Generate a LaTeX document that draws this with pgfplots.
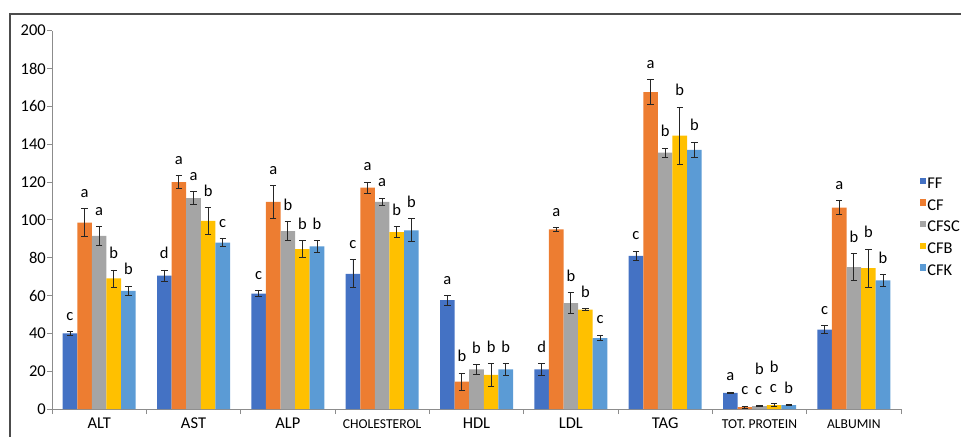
\documentclass[border=0pt]{standalone}
\usepackage{fontspec}
\setmainfont{Carlito}
\usepackage{pgfplots}
\pgfplotsset{compat=1.18}
\usepackage{pgfplotstable}
\definecolor{cFF}{HTML}{4472C4}
\definecolor{cCF}{HTML}{ED7D31}
\definecolor{cCFSC}{HTML}{A5A5A5}
\definecolor{cCFB}{HTML}{FFC000}
\definecolor{cCFK}{HTML}{5B9BD5}
\newcommand\fa{\fontsize{16.5bp}{19bp}\selectfont}
\newcommand\fb{\fontsize{13.6bp}{16bp}\selectfont}
\newcommand\bc{\vbox{\baselineskip=20bp\hbox{b}\hbox{c}}}

\pgfplotstableread{
x y e lab
0 40 1 c
1 70.5 3 d
2 61 1.5 c
3 71.5 7.5 c
4 57.5 2.5 a
5 21 3 d
6 81 2.5 c
7 8.5 0.5 a
8 42 2 c
}\FF
\pgfplotstableread{
x y e lab
0 98.5 7.5 a
1 120 3.5 a
2 109.5 8.5 a
3 117 3 a
4 14.5 4.5 b
5 95 1 a
6 167.5 6.5 a
7 1 0.5 c
8 106.5 3.5 a
}\CF
\pgfplotstableread{
x y e lab
0 91.5 5 a
1 111.5 3.5 a
2 94 5 b
3 109.5 2 a
4 21 2.5 b
5 56 5.5 b
6 135.5 2.5 b
7 1.5 0.3 \bc
8 75 7 b
}\CFSC
\pgfplotstableread{
x y e lab
0 69 4.5 b
1 99.5 7 b
2 84.5 4.5 b
3 93.5 3 b
4 18 6 b
5 52.5 0.5 b
6 144.5 15 b
7 2 0.8 \bc
8 74.5 10 b
}\CFB
\pgfplotstableread{
x y e lab
0 62.5 2.5 b
1 88 2 c
2 86 3 b
3 94.5 6 b
4 21 3 b
5 37.5 1.5 c
6 137 4 b
7 2 0.3 b
8 68 3 b
}\CFK

\pgfplotsset{
  mybar/.style={
    draw=none, fill=#1,
    point meta=explicit symbolic,
    nodes near coords,
    visualization depends on=\thisrow{e}\as\myerr,
    nodes near coords style={font=\fa, text=black, anchor=south, inner sep=0pt,
      shift={(axis direction cs:0,\myerr)}, yshift=11bp},
    error bars/.cd, y dir=both, y explicit,
    error bar style={draw=black!85, line width=0.9bp},
    error mark options={rotate=90, mark size=3.2bp, draw=black!85, line width=0.9bp},
  }
}

\begin{document}
\begin{tikzpicture}
\useasboundingbox (0bp,0bp) rectangle (961bp,437bp);
\clip (0bp,0bp) rectangle (961bp,437bp);
\draw[black!70, line width=1.2bp] (10bp,-10bp) -- (10bp,423bp) -- (975bp,423bp);
\begin{axis}[
  at={(52bp,28bp)}, anchor=south west,
  scale only axis, width=849bp, height=378.3bp,
  xmin=-0.5, xmax=8.5, ymin=0, ymax=200,
  enlargelimits=false, clip=false,
  ybar=0pt, bar width=14.6bp,
  axis x line*=bottom, axis y line*=left,
  axis line style={draw=black!45, line width=1bp},
  xtick={0,...,8},
  xticklabels={ALT,AST,ALP,{\fb CHOLESTEROL},HDL,LDL,TAG,{\fb TOT. PROTEIN},{\fb ALBUMIN}},
  minor xtick={-0.5,0.5,...,8.5},
  major x tick style={draw=none},
  minor x tick style={draw=black!45, line width=1bp},
  minor tick length=5bp,
  major tick length=5bp,
  ytick={0,20,...,200},
  y tick style={draw=black!45, line width=1bp},
  tick align=outside,
  xticklabel style={font=\fa, anchor=base, yshift=-14bp},
  yticklabel style={font=\fa, inner sep=1bp},
  /pgf/number format/assume math mode=true,
  legend style={at={(1.0185,0.48)}, anchor=west, draw=none, fill=none,
    font=\fontsize{16.5}{18}\selectfont, row sep=7.5bp, nodes={inner sep=1bp}},
  legend cell align=left,
  legend image code/.code={\fill[#1] (0bp,0bp) rectangle (6.5bp,6.5bp);},
]
\addplot[mybar=cFF] table[x=x,y=y,y error=e,meta=lab]{\FF};
\addplot[mybar=cCF] table[x=x,y=y,y error=e,meta=lab]{\CF};
\addplot[mybar=cCFSC] table[x=x,y=y,y error=e,meta=lab]{\CFSC};
\addplot[mybar=cCFB] table[x=x,y=y,y error=e,meta=lab]{\CFB};
\addplot[mybar=cCFK] table[x=x,y=y,y error=e,meta=lab]{\CFK};
\legend{FF,CF,CFSC,CFB,CFK}
\end{axis}
\end{tikzpicture}
\end{document}
